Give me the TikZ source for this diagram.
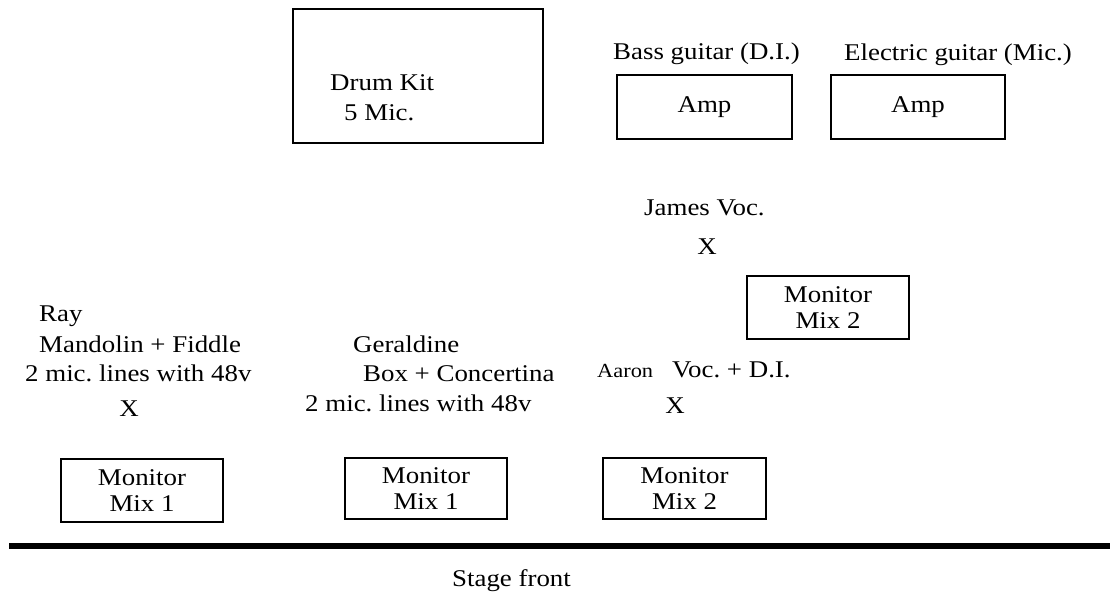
\documentclass[tikz,border=0pt]{standalone}
\usepackage{fontspec}
\setmainfont{Liberation Serif}[FakeStretch=1.12]
\frenchspacing
\begin{document}
\begin{tikzpicture}[x=1pt,y=-1pt,
  every node/.style={inner sep=0pt,font=\fontsize{24}{29}\selectfont},
  box/.style 2 args={draw,line width=1.6pt,minimum width=#1,minimum height=#2,align=center,font=\fontsize{24}{26}\selectfont},
  lbl/.style={anchor=base west}]
\useasboundingbox (0,0) rectangle (1110,593);
% back line
\node[box={250pt}{134pt}] (drum) at (418,76) {};
\node[lbl] (drum1) at (330,91) {Drum Kit};
\node[lbl] (drum2) at (344,121) {5 Mic.};
\node[lbl] (bass) at (613,60) {Bass guitar (D.I.)};
\node[box={175pt}{64pt}] (bassamp) at (704.5,107) {Amp};
\node[lbl] (elec) at (844,61) {Electric guitar (Mic.)};
\node[box={174pt}{64pt}] (elecamp) at (918,107) {Amp};
% vocals
\node[lbl] (james) at (644,216) {James Voc.};
\node (jamesx) at (707,247) {X};
\node[box={162pt}{63pt}] (monJ) at (828,307.5) {Monitor\\Mix 2};
\node[lbl,font=\fontsize{20}{24}\selectfont] (aaron) at (597,377) {Aaron};
\node[lbl] (aaronvoc) at (672,377) {Voc. + D.I.};
\node (aaronx) at (675,406) {X};
% front line
\node[lbl] (ray1) at (39,321) {Ray};
\node[lbl] (ray2) at (39,352) {Mandolin + Fiddle};
\node[lbl] (ray3) at (25,381) {2 mic. lines with 48v};
\node (rayx) at (129,409) {X};
\node[lbl] (ger1) at (353,352) {Geraldine};
\node[lbl] (ger2) at (363,381) {Box + Concertina};
\node[lbl] (ger3) at (305,411) {2 mic. lines with 48v};
\node[box={162pt}{63pt}] (monR) at (142,490.5) {Monitor\\Mix 1};
\node[box={162pt}{61pt}] (monG) at (426,488.5) {Monitor\\Mix 1};
\node[box={163pt}{61pt}] (monA) at (684.5,488.5) {Monitor\\Mix 2};
\coordinate (stageL) at (9,546);
\coordinate (stageR) at (1110,546);
\draw[line width=6pt] (stageL) -- (stageR);
\node[lbl] (stage) at (452,586) {Stage front};
\end{tikzpicture}
\end{document}
